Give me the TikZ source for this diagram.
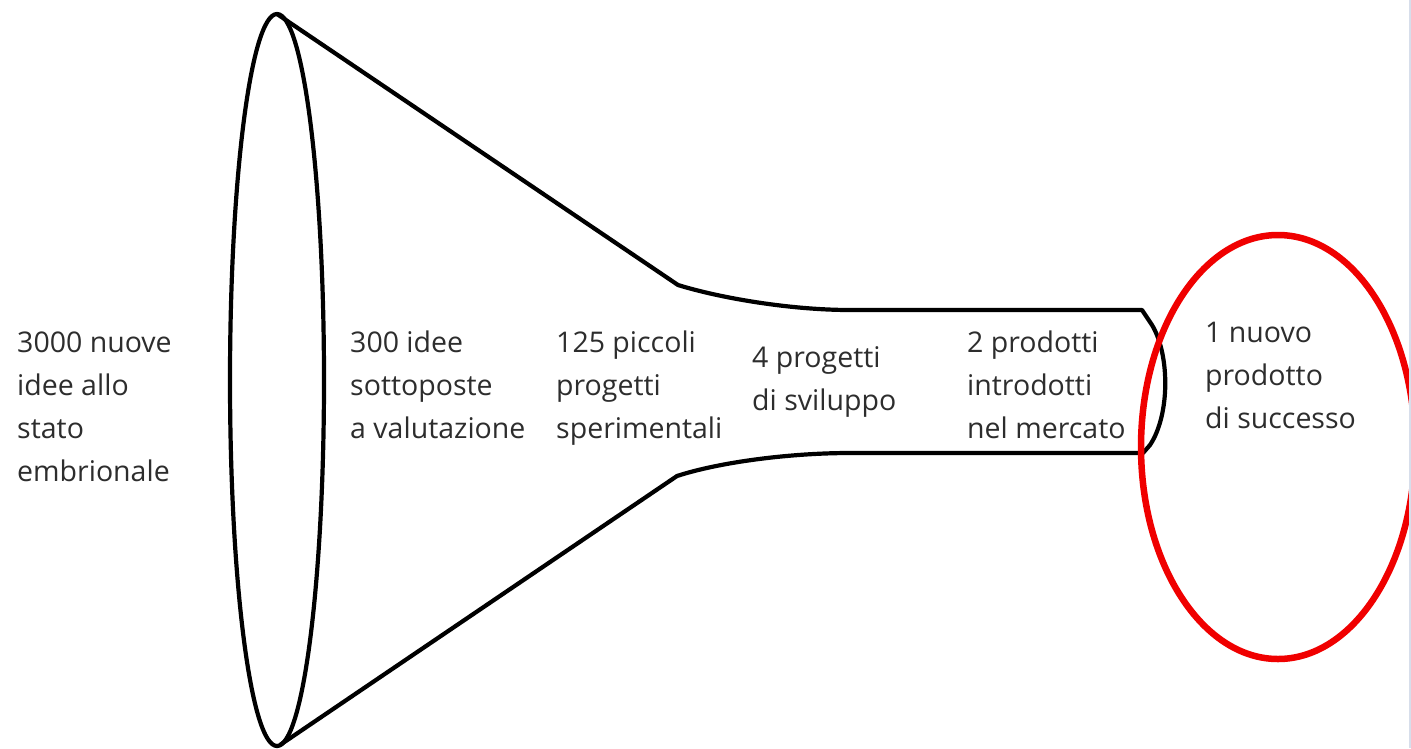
\documentclass[tikz,border=0pt]{standalone}
\usepackage{fontspec}
\setmainfont{Open Sans}
\definecolor{txt}{RGB}{45,45,45}
\definecolor{ring}{RGB}{240,0,0}
\definecolor{edge}{RGB}{215,222,235}
\begin{document}
\begin{tikzpicture}[x=1pt,y=-1pt,
  funnel/.style={draw=black,line width=4.2pt,line join=round},
  lbl/.style={anchor=base west,align=left,inner sep=0pt,text=txt,
    font=\fontsize{28.5}{43}\selectfont},
  mark ring/.style={draw=ring,line width=6.5pt}]
\useasboundingbox (0,0) rectangle (1411,748);
\clip (0,0) rectangle (1411,748);
\fill[white] (0,0) rectangle (1411,748);
% mouth of the funnel
\draw[funnel] (277,380) ellipse [x radius=47, y radius=366];
% body of the funnel
\draw[funnel] (277,14) -- (678,285)
  .. controls (720,298) and (790,310) .. (850,310) -- (1142,310)
  -- (1152,325) .. controls (1170,355) and (1170,415) .. (1150,445)
  -- (1143,453) -- (850,453)
  .. controls (790,453) and (720,462) .. (677,476) -- (280,745);
% highlight
\draw[mark ring] (1278,447) ellipse [x radius=137, y radius=212];
% labels (anchored at the baseline of their last line)
\node[lbl] (a) at (17,481) {3000 nuove\\idee allo\\stato\\embrionale};
\node[lbl] (b) at (350,438) {300 idee\\sottoposte\\a valutazione};
\node[lbl] (c) at (556,438) {125 piccoli\\progetti\\sperimentali};
\node[lbl] (d) at (752,410) {4 progetti\\di sviluppo};
\node[lbl] (e) at (967,438) {2 prodotti\\introdotti\\nel mercato};
\node[lbl] (f) at (1205,428) {1 nuovo\\prodotto\\di successo};
\draw[edge,line width=2pt] (1410,0) -- (1410,748);
\end{tikzpicture}
\end{document}
